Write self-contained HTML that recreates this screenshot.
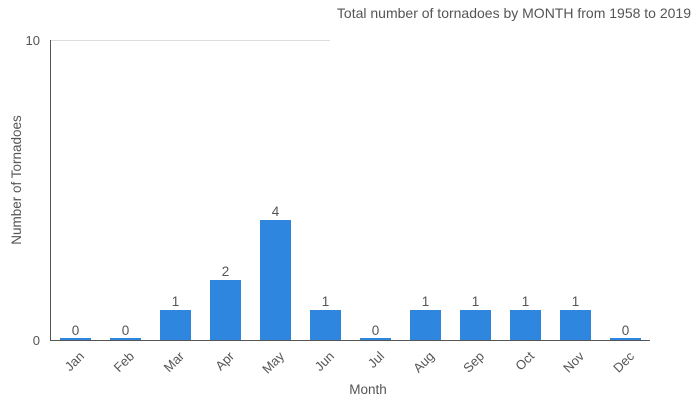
<!DOCTYPE html>
<html><head><style>body{margin:0;background:#fff}</style></head><body>
<svg width="700" height="400" xmlns="http://www.w3.org/2000/svg" font-family="'Liberation Sans','DejaVu Sans',sans-serif" fill="#555">
<line x1="50" y1="40.5" x2="330" y2="40.5" stroke="#ddd"/>
<text x="691" y="18" font-size="14" text-anchor="end">Total number of tornadoes by MONTH from 1958 to 2019</text>
<text x="40" y="45" font-size="13" text-anchor="end">10</text>
<text x="40" y="345" font-size="13" text-anchor="end">0</text>
<text transform="translate(21,180) rotate(-90)" font-size="13.5" text-anchor="middle">Number of Tornadoes</text>
<text x="368" y="394" font-size="13.5" text-anchor="middle">Month</text>
<g fill="#2e86de">
<rect x="60" y="338" width="31" height="2"/>
<rect x="110" y="338" width="31" height="2"/>
<rect x="160" y="310" width="31" height="30"/>
<rect x="210" y="280" width="31" height="60"/>
<rect x="260" y="220" width="31" height="120"/>
<rect x="310" y="310" width="31" height="30"/>
<rect x="360" y="338" width="31" height="2"/>
<rect x="410" y="310" width="31" height="30"/>
<rect x="460" y="310" width="31" height="30"/>
<rect x="510" y="310" width="31" height="30"/>
<rect x="560" y="310" width="31" height="30"/>
<rect x="610" y="338" width="31" height="2"/>
</g>
<line x1="50.5" y1="40" x2="50.5" y2="341" stroke="#555"/>
<line x1="50" y1="340.5" x2="650" y2="340.5" stroke="#555"/>
<g font-size="13.5" text-anchor="middle">
<text x="75.5" y="335">0</text><text x="125.5" y="335">0</text><text x="175.5" y="306">1</text>
<text x="225.5" y="276">2</text><text x="275.5" y="216">4</text><text x="325.5" y="306">1</text>
<text x="375.5" y="335">0</text><text x="425.5" y="306">1</text><text x="475.5" y="306">1</text>
<text x="525.5" y="306">1</text><text x="575.5" y="306">1</text><text x="625.5" y="335">0</text>
</g>
<g font-size="13" text-anchor="end">
<text transform="translate(85,357) rotate(-45)">Jan</text>
<text transform="translate(135,357) rotate(-45)">Feb</text>
<text transform="translate(185,357) rotate(-45)">Mar</text>
<text transform="translate(235,357) rotate(-45)">Apr</text>
<text transform="translate(285,357) rotate(-45)">May</text>
<text transform="translate(335,357) rotate(-45)">Jun</text>
<text transform="translate(385,357) rotate(-45)">Jul</text>
<text transform="translate(435,357) rotate(-45)">Aug</text>
<text transform="translate(485,357) rotate(-45)">Sep</text>
<text transform="translate(535,357) rotate(-45)">Oct</text>
<text transform="translate(585,357) rotate(-45)">Nov</text>
<text transform="translate(635,357) rotate(-45)">Dec</text>
</g>
</svg>
</body></html>
